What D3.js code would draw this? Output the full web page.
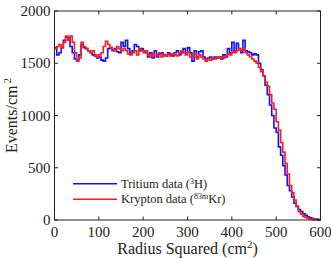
<!DOCTYPE html>
<html><head><meta charset="utf-8">
<script src="https://cdn.jsdelivr.net/npm/d3@7"></script>
</head><body style="margin:0"><svg id="c" width="331" height="258"></svg>
<script>
const binStarts = d3.range(0, 600, 5);
const tritium = [1650,1580,1600,1650,1720,1750,1740,1660,1600,1540,1530,1580,1680,1650,1640,1620,1600,1580,1570,1550,
1560,1530,1520,1550,1640,1650,1620,1640,1610,1600,1700,1660,1720,1640,1600,1620,1680,1660,1620,1640,
1620,1600,1560,1600,1550,1620,1560,1590,1600,1580,1570,1600,1580,1570,1600,1620,1580,1600,1640,1600,
1650,1600,1520,1620,1560,1610,1620,1560,1540,1550,1560,1540,1560,1550,1560,1540,1580,1560,1640,1600,
1700,1620,1690,1640,1600,1720,1620,1610,1600,1580,1590,1580,1500,1440,1380,1290,1200,1100,1000,880,
840,700,620,520,430,330,280,220,160,130,100,80,60,45,30,20,15,10,8,5];
const krypton = [1640,1660,1680,1650,1700,1760,1720,1760,1700,1600,1520,1550,1700,1660,1640,1620,1600,1620,1580,1560,
1580,1600,1660,1710,1680,1650,1630,1620,1660,1640,1620,1640,1620,1590,1580,1600,1620,1580,1640,1620,
1600,1620,1580,1560,1590,1570,1580,1600,1560,1580,1570,1590,1570,1590,1580,1570,1600,1620,1600,1580,
1610,1560,1570,1590,1540,1580,1560,1540,1520,1540,1530,1550,1540,1560,1550,1560,1550,1570,1590,1580,
1610,1600,1620,1640,1620,1640,1600,1580,1560,1540,1520,1500,1460,1420,1380,1320,1280,1200,1120,1060,
940,860,740,650,540,440,330,260,190,130,80,55,35,25,15,10,6,4,2,1];
const xTicks = [0,100,200,300,400,500,600];
const yTicks = [0,500,1000,1500,2000];

const FONT = '"Liberation Serif", monospace';
const svg = d3.select("#c");
const L = 54.5, R = 320.5, T = 11, B = 220;
const x = d3.scaleLinear().domain([0,600]).range([L,R]);
const y = d3.scaleLinear().domain([0,2000]).range([B,T]);

const line = d3.line().x(d=>x(d[0])).y(d=>y(d[1])).curve(d3.curveStepAfter);
function pts(vals){ const p = binStarts.map((b,i)=>[b,vals[i]]); p.push([600, vals[vals.length-1]]); return p; }

svg.append("path").attr("d", line(pts(tritium))).attr("fill","none").attr("stroke","#1010ff").attr("stroke-width",1.6);
svg.append("path").attr("d", line(pts(krypton))).attr("fill","none").attr("stroke","#ff1a1a").attr("stroke-width",1.6);

svg.append("rect").attr("x",L).attr("y",T).attr("width",R-L).attr("height",B-T).attr("fill","none").attr("stroke","#222").attr("stroke-width",1);
function txt(sel){ return sel.append("text").attr("font-family","Liberation Serif").style("font-family",FONT).attr("fill","#222"); }
xTicks.forEach(t=>{
  svg.append("line").attr("x1",x(t)).attr("x2",x(t)).attr("y1",B).attr("y2",B-3.5).attr("stroke","#222");
  svg.append("line").attr("x1",x(t)).attr("x2",x(t)).attr("y1",T).attr("y2",T+3.5).attr("stroke","#222");
  txt(svg).attr("font-size",15).attr("x",x(t)).attr("y",B+17).attr("text-anchor","middle").text(t);
});
yTicks.forEach(t=>{
  svg.append("line").attr("x1",L).attr("x2",L+3.5).attr("y1",y(t)).attr("y2",y(t)).attr("stroke","#222");
  svg.append("line").attr("x1",R).attr("x2",R-3.5).attr("y1",y(t)).attr("y2",y(t)).attr("stroke","#222");
  txt(svg).attr("font-size",15).attr("x",L-4).attr("y",y(t)+5).attr("text-anchor","end").text(t);
});

const xt = txt(svg).attr("x",(L+R)/2).attr("y",254).attr("text-anchor","middle").attr("font-size",16);
xt.append("tspan").text("Radius Squared (cm");
xt.append("tspan").attr("dy",-6).attr("font-size",11).text("2");
xt.append("tspan").attr("dy",6).text(")");

const yt = txt(svg).attr("transform",`translate(17,${(T+B)/2}) rotate(-90)`).attr("text-anchor","middle").attr("font-size",16);
yt.append("tspan").text("Events/cm");
yt.append("tspan").attr("dy",-6).attr("dx",2).attr("font-size",11).text("2");

const legend = [["Tritium data (", "3", "H)", "#1010ff"], ["Krypton data (", "83m", "Kr)", "#ff1a1a"]];
legend.forEach((d,i)=>{
  const ly = 183.7 + i*15.6;
  svg.append("line").attr("x1",73).attr("x2",117).attr("y1",ly).attr("y2",ly).attr("stroke",d[3]).attr("stroke-width",1.6);
  const t = txt(svg).attr("x",121).attr("y",ly+4).attr("font-size",12.5);
  t.append("tspan").text(d[0]);
  t.append("tspan").attr("dy",-4).attr("font-size",8).text(d[1]);
  t.append("tspan").attr("dy",4).text(d[2]);
});
</script></body></html>
